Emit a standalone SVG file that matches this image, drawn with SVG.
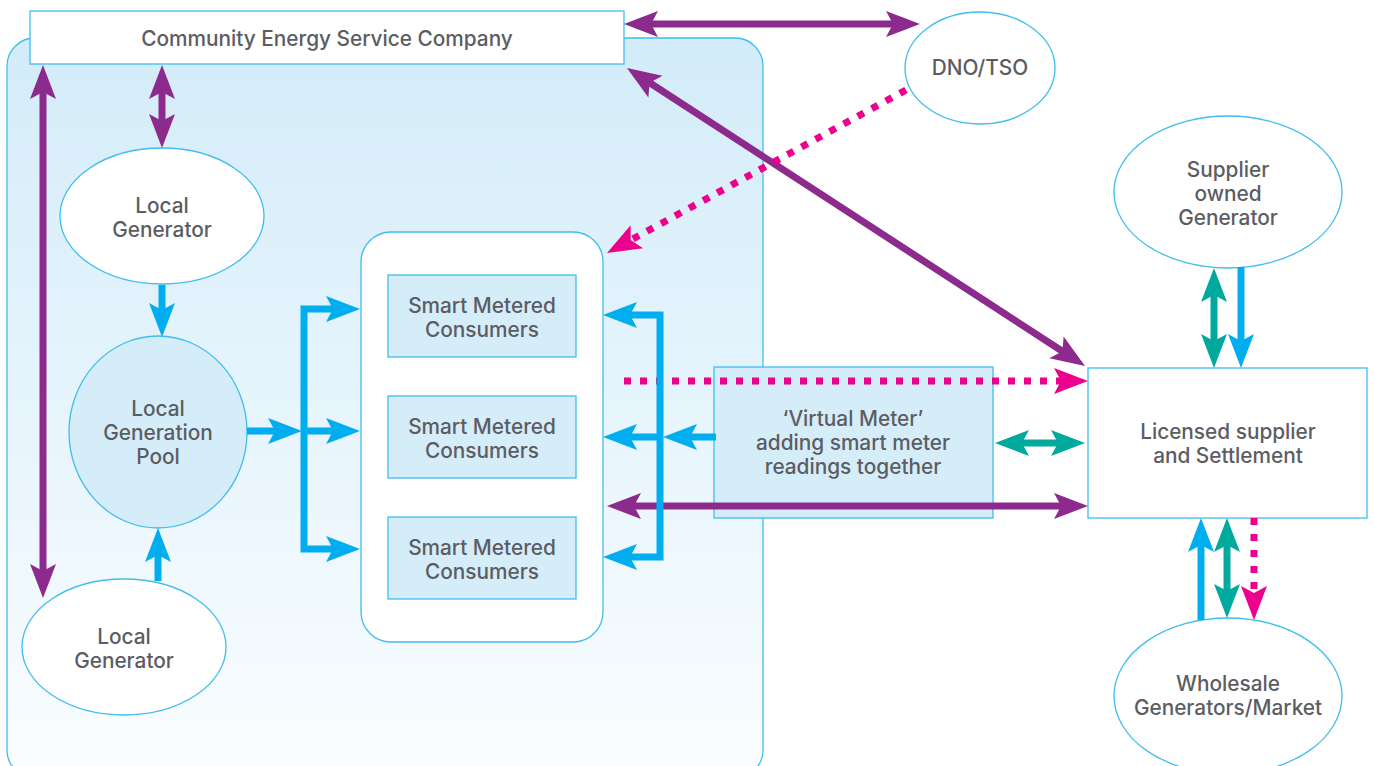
<svg xmlns="http://www.w3.org/2000/svg" width="1375" height="766" viewBox="0 0 1375 766">
<defs>
<linearGradient id="bg" x1="0" y1="0" x2="0" y2="1">
<stop offset="0" stop-color="#d3ecf9"/>
<stop offset="1" stop-color="#fafdff"/>
</linearGradient>
<marker id="mP" viewBox="-14 -15 38 30" markerWidth="38" markerHeight="30" refX="0" refY="0" markerUnits="userSpaceOnUse" orient="auto-start-reverse"><path d="M22,0 L-12,-13 L-5,0 L-12,13 Z" fill="#8c2a8d"/></marker>
<marker id="mB" viewBox="-14 -15 38 30" markerWidth="38" markerHeight="30" refX="0" refY="0" markerUnits="userSpaceOnUse" orient="auto-start-reverse"><path d="M22,0 L-12,-13 L-5,0 L-12,13 Z" fill="#00aeef"/></marker>
<marker id="mT" viewBox="-14 -15 38 30" markerWidth="38" markerHeight="30" refX="0" refY="0" markerUnits="userSpaceOnUse" orient="auto-start-reverse"><path d="M22,0 L-12,-13 L-5,0 L-12,13 Z" fill="#00a99d"/></marker>
<marker id="mM" viewBox="-14 -15 38 30" markerWidth="38" markerHeight="30" refX="0" refY="0" markerUnits="userSpaceOnUse" orient="auto-start-reverse"><path d="M22,0 L-12,-13 L-5,0 L-12,13 Z" fill="#ec008c"/></marker>
</defs>
<style>
.lbl{font-family:Inter,Roboto,"Liberation Sans",Arial,sans-serif;font-weight:500;font-size:20.8px;fill:#5b5d63;text-anchor:middle}
.box{stroke:#3fbdee;stroke-width:1.3}
.w{fill:#ffffff}
.lb{fill:#d5ecf9}
.p{stroke:#8c2a8d;stroke-width:7;fill:none}
.b{stroke:#00aeef;stroke-width:7;fill:none;stroke-linejoin:miter}
.t{stroke:#00a99d;stroke-width:7;fill:none}
.m{stroke:#ec008c;stroke-width:7;fill:none;stroke-dasharray:7 9}
.p2{marker-start:url(#mP);marker-end:url(#mP)}
.t2{marker-start:url(#mT);marker-end:url(#mT)}
.be{marker-end:url(#mB)}
.me{marker-end:url(#mM)}
</style>
<g id="community-area">
<rect x="7" y="38" width="756" height="740" rx="28" fill="url(#bg)" class="box"/>
</g>
<g id="cesc">
<rect x="30" y="11" width="594" height="53" class="box w"/>
<text x="327" y="46" class="lbl">Community Energy Service Company</text>
</g>
<g id="dno">
<ellipse cx="980" cy="68" rx="75" ry="56" class="box w"/>
<text x="980" y="75" class="lbl">DNO/TSO</text>
</g>
<g id="local-generator-1">
<ellipse cx="162" cy="216" rx="102" ry="68" class="box w"/>
<text x="162" y="213" class="lbl">Local</text>
<text x="162" y="237" class="lbl">Generator</text>
</g>
<g id="pool">
<ellipse cx="158" cy="432" rx="89" ry="96" class="box lb"/>
<text x="158" y="416" class="lbl">Local</text>
<text x="158" y="440" class="lbl">Generation</text>
<text x="158" y="464" class="lbl">Pool</text>
</g>
<g id="local-generator-2">
<ellipse cx="124" cy="647" rx="102" ry="68" class="box w"/>
<text x="124" y="644" class="lbl">Local</text>
<text x="124" y="668" class="lbl">Generator</text>
</g>
<g id="consumers-group">
<rect x="361" y="232" width="242" height="410" rx="30" class="box w"/>
</g>
<g id="consumers-1">
<rect x="388" y="275" width="188" height="82" class="box lb"/>
<text x="482" y="313" class="lbl">Smart Metered</text>
<text x="482" y="337" class="lbl">Consumers</text>
</g>
<g id="consumers-2">
<rect x="388" y="396" width="188" height="82" class="box lb"/>
<text x="482" y="434" class="lbl">Smart Metered</text>
<text x="482" y="458" class="lbl">Consumers</text>
</g>
<g id="consumers-3">
<rect x="388" y="517" width="188" height="82" class="box lb"/>
<text x="482" y="555" class="lbl">Smart Metered</text>
<text x="482" y="579" class="lbl">Consumers</text>
</g>
<g id="virtual-meter">
<rect x="714" y="367" width="279" height="151" class="box lb"/>
<text x="853" y="426" class="lbl">‘Virtual Meter’</text>
<text x="853" y="450" class="lbl">adding smart meter</text>
<text x="853" y="474" class="lbl">readings together</text>
</g>
<g id="licensed-supplier">
<rect x="1088" y="368" width="279" height="150" class="box w"/>
<text x="1228" y="439" class="lbl">Licensed supplier</text>
<text x="1228" y="463" class="lbl">and Settlement</text>
</g>
<g id="supplier-generator">
<ellipse cx="1228" cy="192" rx="114" ry="76" class="box w"/>
<text x="1228" y="177" class="lbl">Supplier</text>
<text x="1228" y="201" class="lbl">owned</text>
<text x="1228" y="225" class="lbl">Generator</text>
</g>
<g id="wholesale">
<ellipse cx="1228" cy="696" rx="114" ry="78" class="box w"/>
<text x="1228" y="691" class="lbl">Wholesale</text>
<text x="1228" y="715" class="lbl">Generators/Market</text>
</g>
<g id="connectors">
<line x1="646" y1="24" x2="898" y2="24" class="p p2"/>
<line x1="162" y1="87" x2="162" y2="126" class="p p2"/>
<line x1="43" y1="87" x2="43" y2="576" class="p p2"/>
<line x1="645.4" y1="80" x2="1066.6" y2="354" class="p p2"/>
<line x1="906" y1="90" x2="626.3" y2="242.5" class="m me"/>
<line x1="624" y1="381" x2="1066" y2="381" class="m me"/>
<line x1="629" y1="506" x2="1066" y2="506" class="p p2"/>
<line x1="1254" y1="518" x2="1254" y2="598" class="m me"/>
<line x1="162" y1="285" x2="162" y2="315" class="b be"/>
<line x1="158" y1="581" x2="158" y2="550" class="b be"/>
<line x1="247" y1="431" x2="280" y2="431" class="b be"/>
<path d="M338,309 H304 V549 H338" class="b" marker-start="url(#mB)" marker-end="url(#mB)"/>
<line x1="304" y1="431" x2="338" y2="431" class="b be"/>
<path d="M625,315 H660 V557 H625" class="b" marker-start="url(#mB)" marker-end="url(#mB)"/>
<line x1="660" y1="437" x2="625" y2="437" class="b be"/>
<line x1="716" y1="437" x2="685" y2="437" class="b be"/>
<line x1="1017" y1="443" x2="1063" y2="443" class="t t2"/>
<line x1="1214" y1="290" x2="1214" y2="346" class="t t2"/>
<line x1="1241" y1="267" x2="1241" y2="346" class="b be"/>
<line x1="1201" y1="620" x2="1201" y2="540" class="b be"/>
<line x1="1227" y1="540" x2="1227" y2="596" class="t t2"/>
</g>
</svg>
